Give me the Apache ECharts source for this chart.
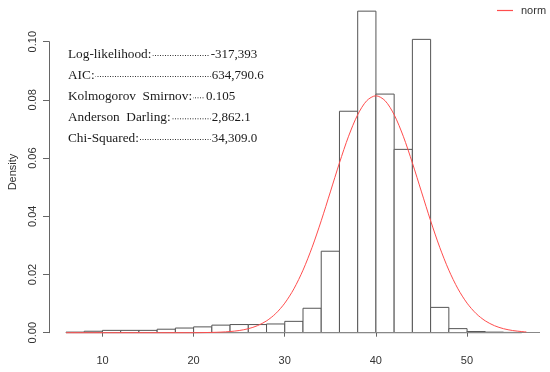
<!DOCTYPE html>
<html>
<head>
<meta charset="utf-8">
<script src="https://cdn.jsdelivr.net/npm/echarts@6/dist/echarts.min.js"></script>
<style>html,body{margin:0;padding:0;background:#fff}#c{width:550px;height:372px}</style>
</head>
<body>
<div id="c"></div>
<script>
// ---- data ----
const binStarts = [6,8,10,12,14,16,18,20,22,24,26,28,30,32,34,36,38,40,42,44,46,48,50,52,54];
const binWidth = 2;
const densities = [0.0002,0.0005,0.0008,0.0008,0.0008,0.0012,0.0016,0.0020,0.0026,0.0028,0.0028,0.0030,0.0039,0.0084,0.0280,0.0761,0.1105,0.0820,0.0630,0.1008,0.0087,0.0014,0.0004,0.0002,0.0001];
const curveX = [6,8,10,12,14,16,18,20,21,22,23,24,25,26,27,28,29,30,31,32,33,34,35,36,37,38,39,40,41,42,43,44,45,46,47,48,49,50,51,52,53,54,55,56,56.5];
const curveY = [0,0,0,0,0,0,0,0,0.00004,0.0001,0.0002,0.0004,0.00075,0.00137,0.00241,0.00406,0.00655,0.01015,0.01507,0.02148,0.02935,0.03847,0.04838,0.05835,0.06751,0.07491,0.07974,0.08142,0.07974,0.07491,0.06751,0.05835,0.04838,0.03847,0.02935,0.02148,0.01507,0.01015,0.00655,0.00406,0.00241,0.00137,0.00075,0.00039,0.00028];
const xTicks = [10,20,30,40,50];
const yTicks = [0,0.02,0.04,0.06,0.08,0.10];
const statLabels = ['Log-likelihood:','AIC:','Kolmogorov  Smirnov:','Anderson  Darling:','Chi-Squared:'];
const statValues = ['-317,393','634,790.6','0.105','2,862.1','34,309.0'];
const legendName = 'norm';
const yName = 'Density';

// ---- layout ----
const valueX = [210.7, 211.7, 206, 211.7, 211.7];
const baselines = [59, 80, 101.3, 122.3, 143];

const histData = binStarts.map((s, i) => [s, s + binWidth, densities[i]]);
const curveData = curveX.map((x, i) => [x, curveY[i]]);

const chart = echarts.init(document.getElementById('c'), null, {renderer: 'canvas'});

const graphics = [];
statLabels.forEach((lab, i) => {
  const b = baselines[i];
  graphics.push({
    type: 'line', silent: true, z: 10,
    shape: {x1: 70, y1: b - 3.5, x2: valueX[i] - 1, y2: b - 3.5},
    style: {stroke: '#333', lineWidth: 1, lineDash: [1, 1.5]}
  });
  graphics.push({
    type: 'text', silent: true, z: 11, x: 68, y: b - 4.5,
    style: {text: lab, font: '13.3px "Liberation Serif"', fill: '#1a1a1a',
            verticalAlign: 'middle', align: 'left', backgroundColor: '#fff', padding: [0, 1, 0, 0]}
  });
  graphics.push({
    type: 'text', silent: true, z: 11, x: valueX[i], y: b - 4.5,
    style: {text: statValues[i], font: '13px "Liberation Serif"', fill: '#1a1a1a',
            verticalAlign: 'middle', align: 'left'}
  });
});
graphics.push({
  type: 'text', silent: true, x: 12.5, y: 172, rotation: Math.PI / 2,
  style: {text: yName, font: '11px "Liberation Sans"', fill: '#333', align: 'center', verticalAlign: 'middle'}
});

chart.setOption({
  animation: false,
  backgroundColor: '#fff',
  grid: [
    {left: 66, right: 10, top: 41.7, bottom: 39.3},
    {left: 102.5, right: 83.1, top: 41.7, bottom: 39.3}
  ],
  legend: {
    data: [legendName], left: 497, top: 5, padding: 0, itemWidth: 16, itemHeight: 1.2, icon: 'rect',
    textStyle: {fontFamily: 'Liberation Sans', fontSize: 11, color: '#333', padding: [0, 0, 0, 3]},
    selectedMode: false
  },
  xAxis: [
    {type: 'value', gridIndex: 0, min: 6, max: 58, show: false},
    {type: 'value', gridIndex: 1, min: xTicks[0], max: xTicks[xTicks.length - 1], interval: 10,
     offset: 14, position: 'bottom',
     axisLine: {show: true, lineStyle: {color: '#666', width: 1}},
     axisTick: {show: true, length: 4, lineStyle: {color: '#666'}},
     axisLabel: {fontFamily: 'Liberation Sans', fontSize: 11, color: '#333', margin: 9,
                 formatter: v => xTicks.includes(v) ? String(v) : ''},
     splitLine: {show: false}}
  ],
  yAxis: [
    {type: 'value', gridIndex: 0, min: yTicks[0], max: yTicks[yTicks.length - 1], interval: 0.02,
     offset: 17,
     axisLine: {show: true, lineStyle: {color: '#666', width: 1}},
     axisTick: {show: true, length: 6, lineStyle: {color: '#666'}},
     axisLabel: {fontFamily: 'Liberation Sans', fontSize: 11, color: '#333', rotate: 90, margin: 11,
                 formatter: v => v.toFixed(2)},
     splitLine: {show: false}},
    {type: 'value', gridIndex: 1, show: false, min: 0, max: 0.1}
  ],
  series: [
    {
      type: 'custom', name: 'hist', xAxisIndex: 0, yAxisIndex: 0, clip: false, silent: true,
      encode: {x: [0, 1], y: 2},
      data: histData,
      renderItem: function (params, api) {
        const p0 = api.coord([api.value(0), 0]);
        const p1 = api.coord([api.value(1), api.value(2)]);
        return {
          type: 'rect',
          shape: {x: p0[0], y: p1[1], width: p1[0] - p0[0], height: p0[1] - p1[1]},
          style: {fill: '#fff', stroke: '#555', lineWidth: 1}
        };
      }
    },
    {
      type: 'line', name: legendName, xAxisIndex: 0, yAxisIndex: 0, data: curveData,
      smooth: 0.3, symbol: 'none', clip: false, silent: true, z: 5,
      lineStyle: {color: '#ff4d4d', width: 1}, itemStyle: {color: '#ff4d4d'},
      markLine: {
        silent: true, symbol: 'none', label: {show: false},
        lineStyle: {color: '#888', width: 1, type: 'solid'},
        data: [{yAxis: 0}]
      }
    }
  ],
  graphic: graphics
});
</script>
</body>
</html>
